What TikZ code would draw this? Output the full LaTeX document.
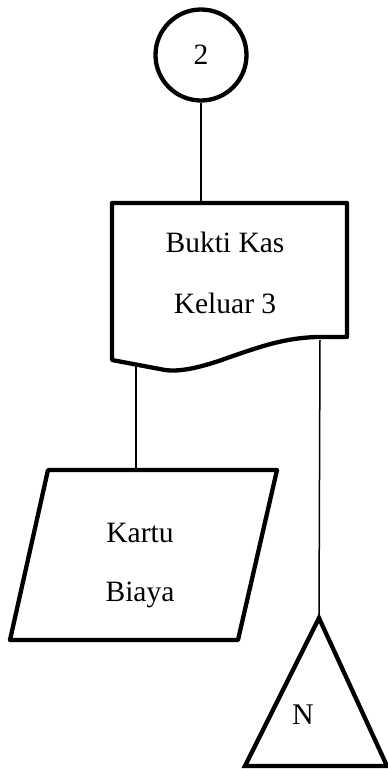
\documentclass[tikz,border=0pt]{standalone}
\usepackage{fontspec}
\setmainfont{Liberation Serif}
\begin{document}
\begin{tikzpicture}[x=1pt,y=-1pt,
  shapeline/.style={line width=4.3pt, line join=round, fill=white},
  flow/.style={line width=1.5pt},
  label/.style={font=\fontsize{29.5}{35}\selectfont, inner sep=0pt}]
\useasboundingbox (0,0) rectangle (388,769);

% off-page connector and its text
\node[circle, draw, line width=4.3pt, fill=white, minimum size=91pt, inner sep=0pt,
      label] (c2) at (201,55) {2};

% anchor points of the shapes
\coordinate (docTop) at (201,203);
\coordinate (docOutL) at (136,366);
\coordinate (docOutR) at (320,340);
\coordinate (cardTop) at (136,470);
\coordinate (endTop) at (319,618);

% connectors
\draw[flow] (c2.south) -- (docTop);
\draw[flow] (docOutL) -- (cardTop);
\draw[flow] (docOutR) -- (endTop);

% document: Bukti Kas Keluar 3
\draw[shapeline] (112,203) -- (347,203) -- (347,337) -- (317,337)
  .. controls (285,338) and (262,346) .. (230,357)
  .. controls (200,368) and (180,372) .. (165,370)
  -- (112,360) -- cycle;
\node[label] (doc1) at (225,242) {Bukti Kas};
\node[label] (doc2) at (225,303) {Keluar 3};

% input/output card: Kartu Biaya
\draw[shapeline] (48,470) -- (277,470) -- (238,640) -- (10,640) -- cycle;
\node[label] (card1) at (140,533) {Kartu};
\node[label] (card2) at (140,595) {Biaya};

% file (terminal triangle)
\draw[shapeline, line join=miter] (endTop) -- (387,766) -- (245,766) -- cycle;
\node[font=\fontsize{30}{36}\selectfont, inner sep=0pt] (fileN) at (303,715) {N};
\end{tikzpicture}
\end{document}
